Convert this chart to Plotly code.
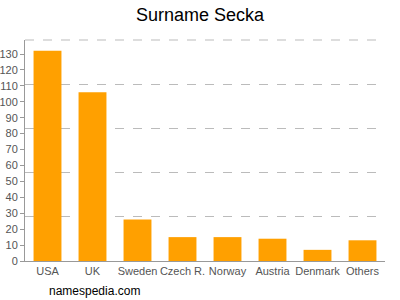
import plotly.graph_objects as go

countries = ["USA", "UK", "Sweden", "Czech R.", "Norway", "Austria", "Denmark", "Others"]
counts = [132, 106, 26, 15, 15, 14, 7, 13]
y_ticks = list(range(0, 140, 10))
y_max = 138.8
grid_vals = [y_max * i / 5 for i in range(1, 5)]

fig = go.Figure()
fig.add_trace(go.Bar(x=countries, y=counts, marker=dict(color="#FFA000", line=dict(width=0)),
                     hoverinfo="skip", showlegend=False))
fig.add_trace(go.Scatter(x=countries[:1], y=[0], yaxis="y2", mode="markers",
                         marker=dict(opacity=0), showlegend=False, hoverinfo="skip"))

fig.update_layout(
    width=400, height=300,
    margin=dict(l=25, r=15, t=40, b=39, autoexpand=False),
    paper_bgcolor="white", plot_bgcolor="white",
    font=dict(family="Liberation Sans, Arial, sans-serif", size=11, color="#555"),
    title=dict(text="Surname Secka", x=0.5, xanchor="center", y=0.95, yanchor="middle",
               font=dict(size=18, color="#000")),
    bargap=0.38,
    xaxis=dict(showline=True, linecolor="#999", linewidth=1, ticks="", showgrid=False,
               tickangle=0, automargin=False, tickfont=dict(size=11, color="#555")),
    yaxis=dict(range=[0, y_max], tickvals=y_ticks, showline=True, linecolor="#999", linewidth=1,
               ticks="outside", ticklen=4, tickcolor="#999", showgrid=False, zeroline=False,
               automargin=False, tickfont=dict(size=11, color="#555")),
    yaxis2=dict(range=[0, y_max], overlaying="y", side="right", tickvals=grid_vals,
                showgrid=True, gridcolor="#bbb", griddash="dash", gridwidth=1, automargin=False,
                showticklabels=False, ticks="", zeroline=False, showline=False),
    shapes=[dict(type="line", xref="paper", yref="paper", x0=0, x1=1, y0=1, y1=1,
                 line=dict(color="#bbb", width=1, dash="dash"), layer="below")],
    annotations=[dict(text="namespedia.com", xref="paper", yref="paper", x=0.06, y=-0.136,
                      xanchor="left", yanchor="middle", showarrow=False,
                      font=dict(size=12, color="#000"))],
)
fig.write_html("out.html")
